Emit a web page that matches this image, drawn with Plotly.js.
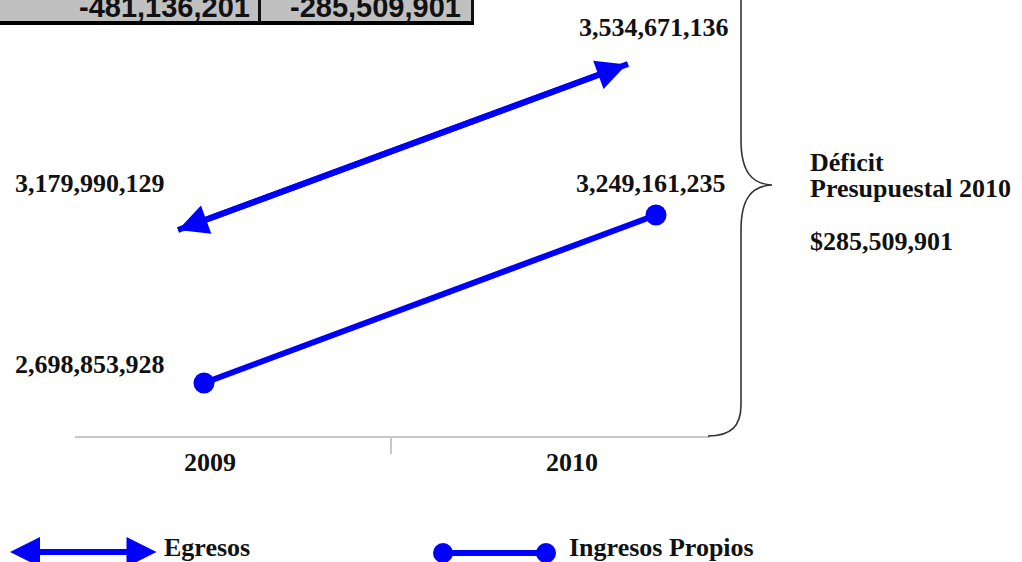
<!DOCTYPE html>
<html>
<head>
<meta charset="utf-8">
<script src="https://cdn.plot.ly/plotly-3.0.1.min.js"></script>
<style>html,body{margin:0;padding:0;background:#fff;}#chart{width:1022px;height:562px;}</style>
</head>
<body>
<div id="chart"></div>
<script>
// ---- data ----
const years = ['2009', '2010'];
const yearNums = [2009, 2010];
const egresos = [3179990129, 3534671136];
const ingresos = [2698853928, 3249161235];
const seriesNames = ['Egresos', 'Ingresos Propios'];
const deficitTitle = ['Déficit', 'Presupuestal 2010'];

// derived
const balance = ingresos.map((v, i) => v - egresos[i]);
const fmt = v => v.toLocaleString('en-US');

// ---- geometry helpers (pixel -> paper) ----
const W = 1022, H = 562;
const px = x => x / W;
const py = y => 1 - y / H;
const pathOf = pts => pts.map(p => typeof p === 'string' ? p : (px(p[0]).toFixed(5) + ',' + py(p[1]).toFixed(5))).join(' ');

const BLUE = '#0000ff';
const TXT = '#111111';
const serif = {family: 'Liberation Serif, Times New Roman, serif', size: 26, color: TXT, weight: 'bold'};
const yDom = [1 - 436 / H, 1];

const traces = [
  // category carrier for the visible x axis
  {x: years, y: ingresos, xaxis: 'x', yaxis: 'y', mode: 'markers', marker: {opacity: 0}, hoverinfo: 'skip', showlegend: false},
  {x: yearNums, y: ingresos, xaxis: 'x2', yaxis: 'y', name: seriesNames[1], mode: 'lines+markers',
   line: {color: BLUE, width: 6}, marker: {color: BLUE, size: 21}, showlegend: false},
  {x: yearNums, y: egresos, xaxis: 'x3', yaxis: 'y2', name: seriesNames[0], mode: 'lines',
   line: {color: BLUE, width: 6}, showlegend: false}
];

const annotations = [
  // Egresos double arrow (data coords)
  {xref: 'x3', yref: 'y2', axref: 'x3', ayref: 'y2', x: yearNums[0], y: egresos[0], ax: yearNums[1], ay: egresos[1],
   text: '', showarrow: true, arrowside: 'end+start', arrowhead: 2, arrowsize: 1.0, arrowwidth: 6, arrowcolor: BLUE},
  // value labels
  {xref: 'paper', yref: 'paper', x: px(654), y: py(27), text: fmt(egresos[1]), showarrow: false, font: serif, xanchor: 'center', yanchor: 'middle'},
  {xref: 'paper', yref: 'paper', x: px(90), y: py(183), text: fmt(egresos[0]), showarrow: false, font: serif, xanchor: 'center', yanchor: 'middle'},
  {xref: 'paper', yref: 'paper', x: px(651), y: py(183), text: fmt(ingresos[1]), showarrow: false, font: serif, xanchor: 'center', yanchor: 'middle'},
  {xref: 'paper', yref: 'paper', x: px(90), y: py(364), text: fmt(ingresos[0]), showarrow: false, font: serif, xanchor: 'center', yanchor: 'middle'},
  // deficit text
  {xref: 'paper', yref: 'paper', x: px(808), y: py(162), text: deficitTitle[0], showarrow: false, font: serif, xanchor: 'left', yanchor: 'middle'},
  {xref: 'paper', yref: 'paper', x: px(808), y: py(188), text: deficitTitle[1], showarrow: false, font: serif, xanchor: 'left', yanchor: 'middle'},
  {xref: 'paper', yref: 'paper', x: px(808), y: py(241), text: '$' + fmt(-balance[1]), showarrow: false, font: serif, xanchor: 'left', yanchor: 'middle'},
  // table texts
  {xref: 'paper', yref: 'paper', x: px(251), y: py(7), text: fmt(balance[0]), showarrow: false, borderpad: 0,
   font: {family: 'Liberation Sans, Arial, sans-serif', size: 29, color: TXT, weight: 'bold'}, xanchor: 'right', yanchor: 'middle'},
  {xref: 'paper', yref: 'paper', x: px(462), y: py(7), text: fmt(balance[1]), showarrow: false, borderpad: 0,
   font: {family: 'Liberation Sans, Arial, sans-serif', size: 29, color: TXT, weight: 'bold'}, xanchor: 'right', yanchor: 'middle'},
  // legend
  {xref: 'paper', yref: 'paper', x: px(10), y: py(552), ax: 148, ay: 0, text: '', showarrow: true,
   arrowside: 'end+start', arrowhead: 2, arrowsize: 1.0, arrowwidth: 6, arrowcolor: BLUE},
  {xref: 'paper', yref: 'paper', x: px(162), y: py(547), text: seriesNames[0], showarrow: false, font: serif, xanchor: 'left', yanchor: 'middle'},
  {xref: 'paper', yref: 'paper', x: px(567), y: py(547), text: seriesNames[1], showarrow: false, font: serif, xanchor: 'left', yanchor: 'middle'}
];

const shapes = [
  // table
  {type: 'rect', xref: 'paper', yref: 'paper', x0: 0, x1: px(473), y0: py(21), y1: 1.02, fillcolor: '#c0c0c0', line: {width: 0}, layer: 'below'},
  {type: 'rect', xref: 'paper', yref: 'paper', x0: 0, x1: px(474), y0: py(25), y1: py(21), fillcolor: '#000', line: {width: 0}},
  {type: 'rect', xref: 'paper', yref: 'paper', x0: px(258), x1: px(261), y0: py(22), y1: 1.02, fillcolor: '#111', line: {width: 0}},
  {type: 'rect', xref: 'paper', yref: 'paper', x0: px(471), x1: px(474), y0: py(22), y1: 1.02, fillcolor: '#111', line: {width: 0}},
  // brace
  {type: 'path', xref: 'paper', yref: 'paper', line: {color: '#333', width: 1.6},
   path: pathOf(['M', [741, -2], 'L', [741, 140], 'C', [741, 172], [752, 184], [772, 185], 'C', [752, 186], [741, 198], [741, 230],
                 'L', [741, 405], 'C', [741, 426], [731, 436], [708, 436]])},
  // legend sample for Ingresos Propios
  {type: 'line', xref: 'paper', yref: 'paper', x0: px(443), x1: px(546), y0: py(553), y1: py(553), line: {color: BLUE, width: 6}},
  {type: 'circle', xref: 'paper', yref: 'paper', x0: px(433), x1: px(453), y0: py(563), y1: py(543), fillcolor: BLUE, line: {width: 0}},
  {type: 'circle', xref: 'paper', yref: 'paper', x0: px(536), x1: px(556), y0: py(563), y1: py(543), fillcolor: BLUE, line: {width: 0}}
];

const layout = {
  width: W, height: H,
  margin: {l: 0, r: 0, t: 0, b: 0, pad: 0},
  paper_bgcolor: '#ffffff', plot_bgcolor: 'rgba(0,0,0,0)',
  showlegend: false,
  xaxis: {type: 'category', domain: [75 / W, 710 / W], range: [-0.373, 1.381], anchor: 'y',
          showline: true, linecolor: '#c8c8c8', linewidth: 2, ticks: 'outside', tickson: 'boundaries',
          ticklen: 16, tickwidth: 2, tickcolor: '#c8c8c8', showgrid: false, zeroline: false,
          tickfont: serif, ticklabelstandoff: 2, fixedrange: true},
  yaxis: {domain: yDom, range: [2525245061, 3953423665], visible: false, fixedrange: true},
  xaxis2: {domain: [0, 1], range: [2008.54867, 2010.80973], anchor: 'y', visible: false, fixedrange: true},
  xaxis3: {domain: [0, 1], range: [2008.60444, 2010.87556], anchor: 'y2', visible: false, fixedrange: true},
  yaxis2: {domain: yDom, range: [2739843731, 3671415719], anchor: 'x3', visible: false, fixedrange: true},
  annotations: annotations,
  shapes: shapes
};

Plotly.newPlot('chart', traces, layout, {displayModeBar: false, staticPlot: true});
</script>
</body>
</html>
